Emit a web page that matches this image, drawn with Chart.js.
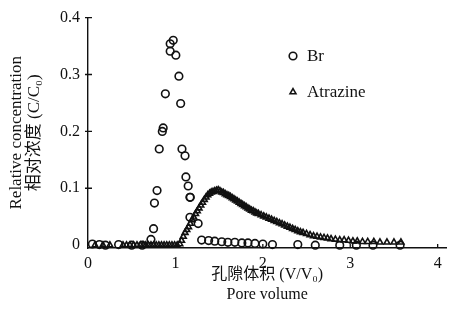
<!DOCTYPE html>
<html><head><meta charset="utf-8">
<script src="https://cdn.jsdelivr.net/npm/chart.js@4"></script>
<style>html,body{margin:0;padding:0;background:#fff}</style>
</head><body>
<canvas id="c" width="452" height="314"></canvas>
<script>
// Br (circles)
const brX = [0.05,0.13,0.2,0.35,0.5,0.62,0.72,0.75,0.76,0.79,0.815,0.85,0.86,0.885,0.94,0.94,0.975,1.005,1.04,1.06,1.075,1.11,1.12,1.146,1.166,1.17,1.166,1.26,1.3,1.38,1.45,1.53,1.6,1.68,1.76,1.83,1.91,2.0,2.11,2.4,2.6,2.88,3.07,3.26,3.57];
const brY = [0.002,0.001,0.0,0.001,0.0,0.0,0.01,0.029,0.074,0.096,0.169,0.2,0.206,0.266,0.341,0.354,0.36,0.334,0.297,0.249,0.169,0.157,0.12,0.104,0.084,0.084,0.049,0.038,0.009,0.008,0.007,0.006,0.005,0.005,0.004,0.004,0.003,0.002,0.001,0.001,0.0,0.0,0.0,0.0,0.0];
// Atrazine (triangles)
const atX = [0.08,0.17,0.25,0.4,0.44,0.48,0.52,0.56,0.6,0.63,0.66,0.69,0.72,0.75,0.78,0.81,0.84,0.87,0.9,0.93,0.96,0.99,1.02,
  1.05,1.07,1.09,1.11,1.13,1.15,1.17,1.19,1.21,1.23,1.25,1.27,1.29,1.31,1.33,1.35,1.37,1.39,1.41,1.43,1.45,1.47,1.49,1.51,
  1.53,1.55,1.57,1.59,1.61,1.63,1.65,1.67,1.69,1.71,1.73,1.75,1.77,1.79,1.81,1.83,1.85,1.87,1.89,1.91,1.93,1.95,1.98,2.01,
  2.04,2.07,2.1,2.13,2.16,2.19,2.22,2.25,2.28,2.31,2.34,2.37,2.4,2.43,2.46,2.5,2.54,2.58,2.62,2.66,2.7,2.74,2.78,2.83,2.88,
  2.93,2.98,3.03,3.08,3.14,3.2,3.27,3.34,3.42,3.5,3.58];
const atY = [0,0,0,0,0,0,0,0,0,0,0,0,0,0,0,0,0,0,0,0,0,0,0,
  0.002,0.008,0.015,0.022,0.027,0.032,0.038,0.044,0.049,0.055,0.06,0.065,0.07,0.075,0.08,0.084,0.088,0.091,0.093,0.094,0.095,0.096,0.097,0.095,
  0.093,0.092,0.09,0.088,0.087,0.085,0.083,0.081,0.079,0.077,0.075,0.073,0.071,0.069,0.067,0.065,0.063,0.061,0.06,0.058,0.056,0.055,0.053,0.051,
  0.049,0.047,0.045,0.043,0.041,0.039,0.037,0.035,0.033,0.031,0.029,0.027,0.025,0.023,0.022,0.02,0.018,0.016,0.015,0.014,0.013,0.012,0.011,0.01,0.009,
  0.009,0.008,0.007,0.007,0.006,0.006,0.006,0.005,0.005,0.005,0.005];
const xTicks = [0,1,2,3,4];
const yTicks = [0,0.1,0.2,0.3,0.4];
const seriesNames = ['Br','Atrazine'];

const FONT = "'Liberation Serif','Noto Sans CJK SC',serif";
const INK = '#111';

const pts = (xs, ys) => xs.map((x, i) => ({x, y: ys[i]}));

const extras = {
  id: 'extras',
  afterDraw(chart) {
    const {ctx, chartArea, scales: {x, y}} = chart;
    ctx.save();
    ctx.strokeStyle = INK;
    ctx.lineWidth = 1.3;
    ctx.beginPath();
    xTicks.forEach(v => { if (v === 0) return; const px = x.getPixelForValue(v); ctx.moveTo(px, chartArea.bottom); ctx.lineTo(px, chartArea.bottom - 4); });
    yTicks.forEach(v => { if (v === 0) return; const py = y.getPixelForValue(v); ctx.moveTo(chartArea.left - 3, py); ctx.lineTo(chartArea.left + 4, py); });
    ctx.stroke();
    // legend
    const ds = chart.data.datasets;
    const items = [{mx: 293, my: 56}, {mx: 293, my: 92}];
    items.forEach((it, i) => {
      const d = ds[i];
      ctx.strokeStyle = INK; ctx.fillStyle = 'rgba(0,0,0,0)'; ctx.lineWidth = d.borderWidth;
      Chart.helpers.drawPoint(ctx, {pointStyle: d.pointStyle, radius: d.pointRadius, borderWidth: d.borderWidth, rotation: 0}, it.mx, it.my);
      ctx.fillStyle = INK;
      ctx.font = '17px ' + FONT;
      ctx.textBaseline = 'middle';
      ctx.textAlign = 'left';
      ctx.fillText(seriesNames[i], it.mx + 14, it.my + 1);
    });
    ctx.restore();
  }
};

new Chart(document.getElementById('c'), {
  type: 'scatter',
  data: {
    datasets: [
      {label: seriesNames[0], data: pts(brX, brY), pointStyle: 'circle', pointRadius: 3.8, borderWidth: 1.6, borderColor: INK, backgroundColor: 'rgba(0,0,0,0)', clip: false},
      {label: seriesNames[1], data: pts(atX, atY), pointStyle: 'triangle', pointRadius: 3.4, borderWidth: 1.6, borderColor: INK, backgroundColor: 'rgba(0,0,0,0)', clip: false}
    ]
  },
  options: {
    responsive: false,
    animation: false,
    devicePixelRatio: 1,
    layout: {padding: {left: 0, top: 15, right: 5, bottom: 0}},
    plugins: {legend: {display: false}, tooltip: {enabled: false}},
    scales: {
      x: {
        type: 'linear', min: 0, max: 4.1,
        afterBuildTicks: s => { s.ticks = xTicks.map(v => ({value: v})); },
        afterFit: s => { s.height = 66; },
        grid: {display: false, drawTicks: false},
        border: {display: true, color: INK, width: 1.4},
        ticks: {padding: 6, color: INK, font: {family: FONT, size: 16}, callback: v => String(v)},
        title: {display: true, text: ['孔隙体积 (V/V₀)', 'Pore volume'], color: INK, font: {family: FONT, size: 16, lineHeight: 1.25}, padding: {top: 0, bottom: 9}}
      },
      y: {
        type: 'linear', min: -0.005, max: 0.4,
        afterBuildTicks: s => { s.ticks = yTicks.map(v => ({value: v})); },
        afterFit: s => { s.width = 88; },
        grid: {display: false, drawTicks: false},
        border: {display: true, color: INK, width: 1.4},
        ticks: {padding: 8, color: INK, font: {family: FONT, size: 16}, callback: v => v === 0 ? '0' : v.toFixed(1)},
        title: {display: true, text: ['Relative concentration', '相对浓度 (C/C₀)'], color: INK, font: {family: FONT, size: 17, lineHeight: 1.05}, padding: {top: 8, bottom: 0}}
      }
    }
  },
  plugins: [extras]
});
</script>
</body></html>
